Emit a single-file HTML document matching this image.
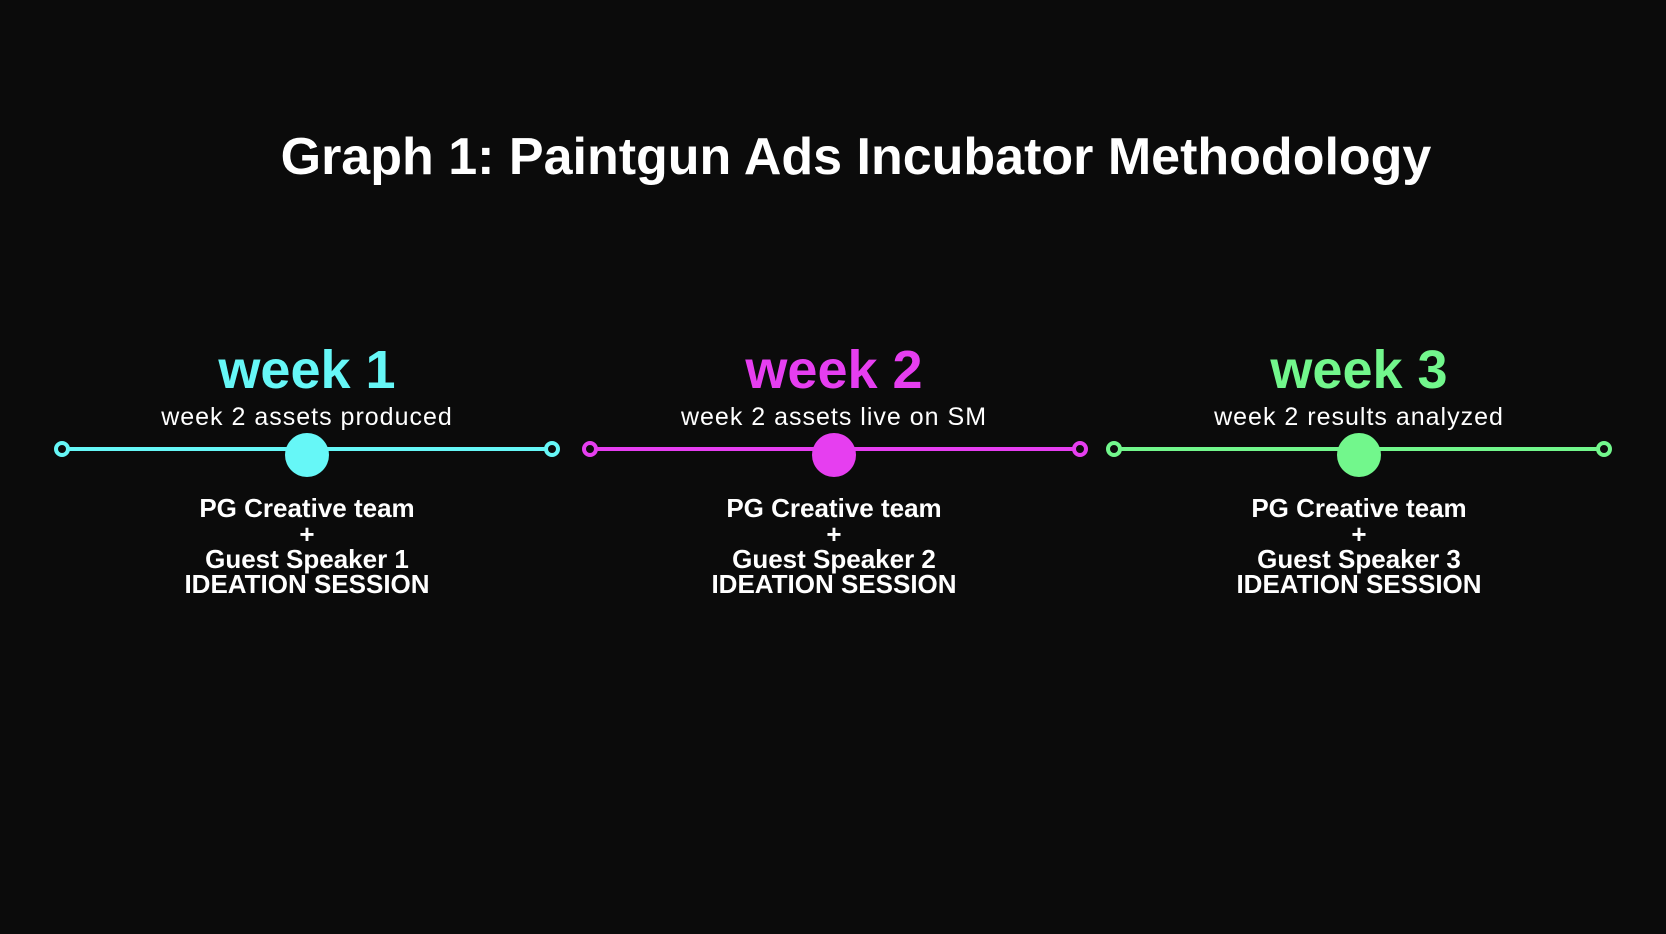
<!DOCTYPE html>
<html><head><meta charset="utf-8"><style>
html,body{margin:0;padding:0;background:#0b0b0b;width:1666px;height:934px;overflow:hidden}
svg text{font-family:"Liberation Sans",sans-serif;text-anchor:middle}
</style></head><body>
<svg width="1666" height="934" viewBox="0 0 1666 934">
<rect width="1666" height="934" fill="#0b0b0b"/>
<text x="856" y="174" font-size="52" font-weight="bold" fill="#fff">Graph 1: Paintgun Ads Incubator Methodology</text>

<g stroke="#66f7f7" stroke-width="4" fill="none">
<line x1="67" y1="449" x2="546" y2="449"/>
<circle cx="62" cy="449" r="6"/><circle cx="552" cy="449" r="6"/>
</g>
<circle cx="307" cy="455" r="22" fill="#66f7f7"/>
<text x="307" y="388" font-size="54" font-weight="bold" fill="#66f7f7">week 1</text>
<text x="307" y="425" font-size="25" letter-spacing="1" fill="#fff">week 2 assets produced</text>
<g font-size="26" font-weight="bold" fill="#fff">
<text x="307" y="517">PG Creative team</text><text x="307" y="543">+</text>
<text x="307" y="568">Guest Speaker 1</text><text x="307" y="593">IDEATION SESSION</text></g>

<g stroke="#e63ef0" stroke-width="4" fill="none">
<line x1="595" y1="449" x2="1074" y2="449"/>
<circle cx="590" cy="449" r="6"/><circle cx="1080" cy="449" r="6"/>
</g>
<circle cx="834" cy="455" r="22" fill="#e63ef0"/>
<text x="834" y="388" font-size="54" font-weight="bold" fill="#e63ef0">week 2</text>
<text x="834" y="425" font-size="25" letter-spacing="1" fill="#fff">week 2 assets live on SM</text>
<g font-size="26" font-weight="bold" fill="#fff">
<text x="834" y="517">PG Creative team</text><text x="834" y="543">+</text>
<text x="834" y="568">Guest Speaker 2</text><text x="834" y="593">IDEATION SESSION</text></g>

<g stroke="#72f78c" stroke-width="4" fill="none">
<line x1="1120" y1="449" x2="1598" y2="449"/>
<circle cx="1114" cy="449" r="6"/><circle cx="1604" cy="449" r="6"/>
</g>
<circle cx="1359" cy="455" r="22" fill="#72f78c"/>
<text x="1359" y="388" font-size="54" font-weight="bold" fill="#72f78c">week 3</text>
<text x="1359" y="425" font-size="25" letter-spacing="1" fill="#fff">week 2 results analyzed</text>
<g font-size="26" font-weight="bold" fill="#fff">
<text x="1359" y="517">PG Creative team</text><text x="1359" y="543">+</text>
<text x="1359" y="568">Guest Speaker 3</text><text x="1359" y="593">IDEATION SESSION</text></g>
</svg>
</body></html>
